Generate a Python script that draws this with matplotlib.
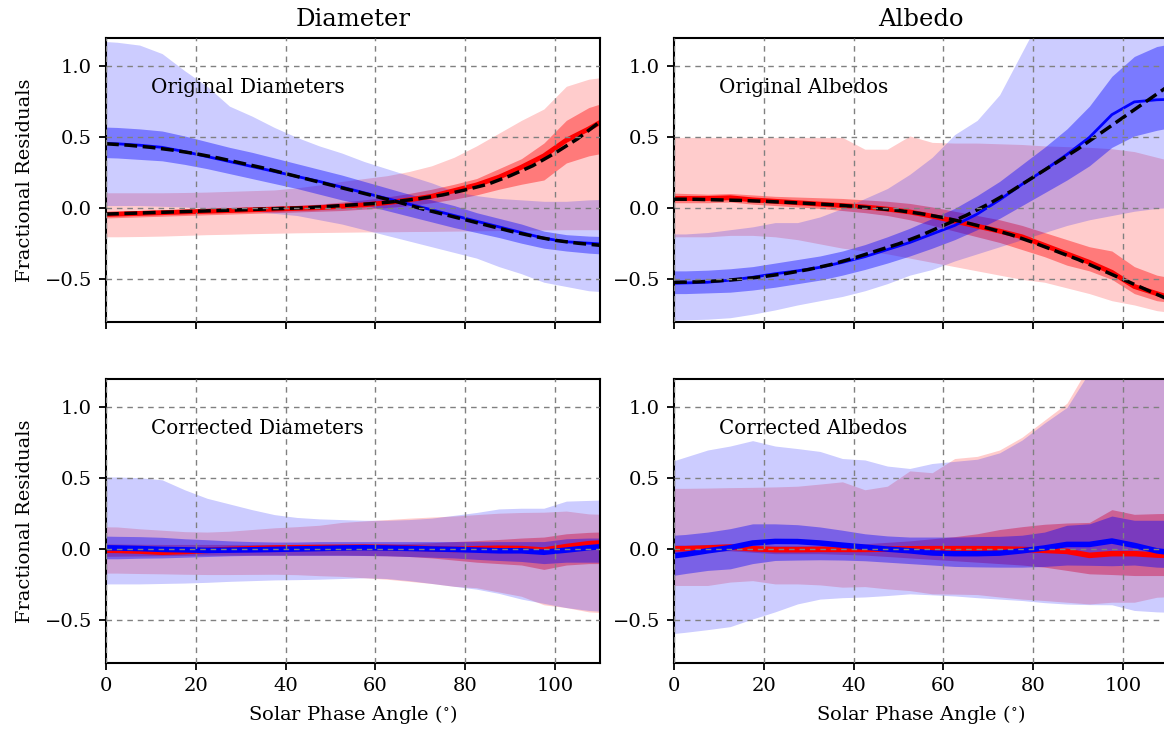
import matplotlib.pyplot as plt

plt.rcParams['font.family'] = 'DejaVu Serif'
plt.rcParams['mathtext.fontset'] = 'dejavuserif'

# phase angle bin centres (deg) for the binned residuals
phase = [-2.5, 2.5, 7.5, 12.5, 17.5, 22.5, 27.5, 32.5, 37.5, 42.5, 47.5, 52.5,
         57.5, 62.5, 67.5, 72.5, 77.5, 82.5, 87.5, 92.5, 97.5, 102.5, 107.5, 112.5]
# phase angles for the fitted correction curves
fit_phase = [0, 5, 10, 15, 20, 25, 30, 35, 40, 45, 50, 55, 60, 65, 70, 75, 80,
             85, 90, 95, 100, 105, 110]

# ---- original diameters ----
od_red_med = [-0.045, -0.04, -0.035, -0.03, -0.025, -0.02, -0.015, -0.01, -0.005, 0.0, 0.005, 0.015,
              0.025, 0.04, 0.06, 0.085, 0.125, 0.165, 0.22, 0.29, 0.37, 0.48, 0.56, 0.65]
od_red_in_hi = [-0.02, -0.02, -0.015, -0.01, -0.005, 0.0, 0.005, 0.01, 0.015, 0.02, 0.03, 0.045,
                0.06, 0.08, 0.105, 0.135, 0.17, 0.21, 0.28, 0.35, 0.46, 0.62, 0.71, 0.76]
od_red_in_lo = [-0.07, -0.065, -0.06, -0.055, -0.05, -0.045, -0.04, -0.035, -0.03, -0.025, -0.02, -0.015,
                -0.005, 0.005, 0.02, 0.04, 0.065, 0.095, 0.135, 0.17, 0.2, 0.32, 0.37, 0.4]
od_red_out_hi = [0.11, 0.11, 0.11, 0.11, 0.112, 0.115, 0.12, 0.125, 0.13, 0.145, 0.165, 0.19,
                 0.21, 0.23, 0.26, 0.3, 0.36, 0.44, 0.53, 0.62, 0.7, 0.86, 0.91, 0.93]
od_red_out_lo = [-0.2, -0.2, -0.198, -0.195, -0.19, -0.185, -0.182, -0.178, -0.175, -0.172, -0.17, -0.168,
                 -0.166, -0.165, -0.163, -0.162, -0.16, -0.158, -0.156, -0.154, -0.152, -0.15, -0.15, -0.15]
od_blue_med = [0.46, 0.455, 0.445, 0.43, 0.4, 0.365, 0.33, 0.295, 0.26, 0.225, 0.19, 0.15,
               0.11, 0.07, 0.03, -0.01, -0.05, -0.09, -0.13, -0.17, -0.21, -0.235, -0.245, -0.255]
od_blue_in_hi = [0.575, 0.57, 0.56, 0.545, 0.51, 0.47, 0.43, 0.395, 0.355, 0.315, 0.275, 0.235,
                 0.19, 0.145, 0.1, 0.06, 0.02, -0.03, -0.07, -0.11, -0.16, -0.185, -0.195, -0.2]
od_blue_in_lo = [0.36, 0.355, 0.345, 0.335, 0.31, 0.28, 0.245, 0.21, 0.175, 0.14, 0.1, 0.06,
                 0.025, -0.015, -0.055, -0.095, -0.135, -0.17, -0.205, -0.245, -0.28, -0.3, -0.315, -0.325]
od_blue_out_hi = [1.18, 1.17, 1.15, 1.09, 0.97, 0.86, 0.72, 0.65, 0.57, 0.5, 0.44, 0.39,
                  0.33, 0.28, 0.23, 0.18, 0.12, 0.09, 0.07, 0.06, 0.05, 0.05, 0.06, 0.065]
od_blue_out_lo = [0.02, 0.02, 0.02, 0.015, 0.01, 0.0, -0.01, -0.02, -0.035, -0.05, -0.08, -0.11,
                  -0.15, -0.19, -0.23, -0.27, -0.31, -0.35, -0.41, -0.46, -0.52, -0.55, -0.58, -0.59]
od_red_fit = [-0.04, -0.035, -0.03, -0.025, -0.02, -0.015, -0.01, -0.005, 0.0, 0.005, 0.015, 0.025,
              0.035, 0.05, 0.07, 0.095, 0.13, 0.17, 0.23, 0.3, 0.39, 0.49, 0.61]
od_blue_fit = [0.455, 0.445, 0.43, 0.41, 0.385, 0.355, 0.32, 0.285, 0.245, 0.205, 0.165, 0.125,
               0.085, 0.045, 0.0, -0.04, -0.08, -0.12, -0.16, -0.195, -0.225, -0.245, -0.26]

# ---- original albedos ----
oa_red_med = [0.07, 0.07, 0.07, 0.075, 0.06, 0.05, 0.04, 0.03, 0.02, 0.01, -0.005, -0.025,
              -0.055, -0.09, -0.125, -0.16, -0.2, -0.26, -0.32, -0.38, -0.45, -0.55, -0.6, -0.65]
oa_red_in_hi = [0.11, 0.105, 0.1, 0.105, 0.095, 0.085, 0.08, 0.075, 0.07, 0.06, 0.05, 0.035,
                0.01, -0.02, -0.05, -0.08, -0.12, -0.17, -0.22, -0.27, -0.3, -0.41, -0.47, -0.5]
oa_red_in_lo = [0.04, 0.04, 0.04, 0.045, 0.03, 0.02, 0.01, 0.0, -0.015, -0.03, -0.05, -0.08,
                -0.12, -0.16, -0.2, -0.24, -0.29, -0.34, -0.4, -0.44, -0.5, -0.6, -0.65, -0.67]
oa_red_out_hi = [0.5, 0.5, 0.5, 0.5, 0.5, 0.5, 0.5, 0.5, 0.5, 0.417, 0.417, 0.51,
                 0.465, 0.46, 0.46, 0.455, 0.45, 0.44, 0.435, 0.43, 0.42, 0.4, 0.36, 0.32]
oa_red_out_lo = [-0.2, -0.2, -0.2, -0.19, -0.19, -0.2, -0.22, -0.25, -0.28, -0.3, -0.32, -0.35,
                 -0.38, -0.41, -0.44, -0.47, -0.5, -0.52, -0.56, -0.6, -0.65, -0.68, -0.72, -0.74]
oa_blue_med = [-0.53, -0.525, -0.52, -0.505, -0.485, -0.46, -0.44, -0.415, -0.38, -0.34, -0.29, -0.24,
               -0.18, -0.12, -0.04, 0.06, 0.17, 0.27, 0.38, 0.5, 0.66, 0.75, 0.765, 0.77]
oa_blue_in_hi = [-0.44, -0.44, -0.435, -0.425, -0.41, -0.385, -0.36, -0.335, -0.3, -0.255, -0.2, -0.14,
                 -0.07, 0.0, 0.09, 0.19, 0.31, 0.43, 0.56, 0.72, 0.93, 1.07, 1.14, 1.17]
oa_blue_in_lo = [-0.6, -0.6, -0.595, -0.59, -0.575, -0.555, -0.53, -0.505, -0.47, -0.43, -0.385, -0.335,
                 -0.28, -0.22, -0.15, -0.07, 0.02, 0.11, 0.2, 0.3, 0.43, 0.51, 0.55, 0.58]
oa_blue_out_hi = [-0.18, -0.18, -0.17, -0.15, -0.13, -0.1, -0.1, -0.06, 0.0, 0.07, 0.14, 0.24,
                  0.36, 0.52, 0.62, 0.8, 1.1, 1.4, 1.6, 1.7, 1.8, 1.9, 2.0, 2.0]
oa_blue_out_lo = [-0.79, -0.785, -0.78, -0.77, -0.745, -0.715, -0.68, -0.65, -0.62, -0.58, -0.53, -0.47,
                  -0.43, -0.37, -0.32, -0.27, -0.22, -0.17, -0.12, -0.08, -0.05, -0.02, 0.0, 0.01]
oa_red_fit = [0.065, 0.064, 0.06, 0.056, 0.05, 0.043, 0.035, 0.026, 0.015, 0.0, -0.015, -0.037,
              -0.065, -0.1, -0.14, -0.185, -0.24, -0.3, -0.36, -0.43, -0.5, -0.57, -0.64]
oa_blue_fit = [-0.52, -0.518, -0.51, -0.498, -0.48, -0.458, -0.43, -0.395, -0.35, -0.3, -0.25, -0.19,
               -0.12, -0.05, 0.03, 0.12, 0.22, 0.32, 0.42, 0.53, 0.64, 0.75, 0.86]

# ---- corrected diameters ----
cd_red_med = [-0.005, -0.007, -0.012, -0.02, -0.015, -0.007, 0.0, 0.005, 0.01, 0.012, 0.014, 0.015,
              0.016, 0.014, 0.01, 0.005, 0.0, 0.005, 0.008, 0.006, -0.005, 0.02, 0.04, 0.05]
cd_red_in_hi = [0.04, 0.038, 0.036, 0.035, 0.035, 0.035, 0.035, 0.035, 0.035, 0.035, 0.035, 0.035,
                0.036, 0.038, 0.042, 0.047, 0.055, 0.062, 0.07, 0.08, 0.087, 0.11, 0.12, 0.125]
cd_red_in_lo = [-0.05, -0.048, -0.046, -0.044, -0.042, -0.04, -0.04, -0.04, -0.04, -0.04, -0.04, -0.04,
                -0.042, -0.045, -0.05, -0.06, -0.075, -0.09, -0.1, -0.11, -0.141, -0.11, -0.1, -0.1]
cd_red_out_hi = [0.16, 0.158, 0.145, 0.135, 0.125, 0.122, 0.128, 0.14, 0.152, 0.16, 0.17, 0.19,
                 0.2, 0.21, 0.22, 0.228, 0.235, 0.245, 0.255, 0.26, 0.262, 0.27, 0.25, 0.245]
cd_red_out_lo = [-0.167, -0.167, -0.17, -0.172, -0.175, -0.177, -0.177, -0.176, -0.175, -0.178, -0.185, -0.19,
                 -0.2, -0.21, -0.225, -0.24, -0.26, -0.27, -0.3, -0.33, -0.39, -0.41, -0.44, -0.45]
cd_blue_med = [0.012, 0.01, 0.006, 0.0, -0.003, -0.007, -0.005, -0.003, 0.0, 0.003, 0.006, 0.01,
               0.012, 0.01, 0.007, 0.003, 0.0, -0.005, -0.01, -0.01, -0.02, -0.005, 0.012, 0.025]
cd_blue_in_hi = [0.095, 0.092, 0.09, 0.085, 0.075, 0.068, 0.06, 0.055, 0.052, 0.052, 0.055, 0.055,
                 0.055, 0.055, 0.055, 0.055, 0.055, 0.055, 0.055, 0.055, 0.055, 0.075, 0.08, 0.08]
cd_blue_in_lo = [-0.066, -0.066, -0.062, -0.06, -0.055, -0.05, -0.045, -0.042, -0.042, -0.042, -0.042, -0.042,
                 -0.043, -0.045, -0.05, -0.055, -0.06, -0.07, -0.078, -0.085, -0.1, -0.09, -0.09, -0.09]
cd_blue_out_hi = [0.51, 0.51, 0.505, 0.49, 0.42, 0.36, 0.32, 0.28, 0.245, 0.225, 0.215, 0.21,
                  0.205, 0.205, 0.21, 0.22, 0.24, 0.26, 0.285, 0.29, 0.29, 0.34, 0.345, 0.35]
cd_blue_out_lo = [-0.243, -0.243, -0.243, -0.24, -0.237, -0.232, -0.225, -0.22, -0.215, -0.213, -0.21, -0.205,
                  -0.2, -0.205, -0.22, -0.24, -0.26, -0.28, -0.31, -0.35, -0.38, -0.41, -0.43, -0.44]

# ---- corrected albedos ----
ca_red_med = [0.005, 0.005, 0.01, 0.016, 0.005, -0.002, -0.002, 0.0, 0.0, 0.0, 0.002, 0.004,
              0.005, 0.005, 0.005, 0.004, 0.0, -0.007, -0.014, -0.042, -0.03, -0.03, -0.04, -0.045]
ca_red_in_hi = [0.03, 0.03, 0.035, 0.04, 0.035, 0.03, 0.03, 0.03, 0.035, 0.04, 0.05, 0.06,
                0.075, 0.09, 0.11, 0.14, 0.16, 0.177, 0.186, 0.19, 0.28, 0.247, 0.252, 0.255]
ca_red_in_lo = [-0.025, -0.02, -0.015, -0.01, -0.02, -0.03, -0.03, -0.03, -0.035, -0.04, -0.05, -0.06,
                -0.07, -0.08, -0.09, -0.1, -0.11, -0.125, -0.148, -0.172, -0.177, -0.184, -0.184, -0.185]
ca_red_out_hi = [0.43, 0.43, 0.432, 0.435, 0.437, 0.44, 0.445, 0.46, 0.476, 0.42, 0.445, 0.553,
                 0.54, 0.64, 0.655, 0.7, 0.79, 0.91, 1.03, 1.3, 1.45, 1.5, 1.5, 1.5]
ca_red_out_lo = [-0.254, -0.254, -0.254, -0.23, -0.22, -0.243, -0.243, -0.25, -0.266, -0.262, -0.278, -0.29,
                 -0.313, -0.315, -0.318, -0.335, -0.35, -0.36, -0.372, -0.384, -0.372, -0.372, -0.337, -0.33]
ca_blue_med = [-0.055, -0.035, -0.01, 0.012, 0.045, 0.056, 0.055, 0.045, 0.03, 0.016, 0.002, -0.01,
               -0.025, -0.03, -0.03, -0.026, -0.01, 0.01, 0.035, 0.035, 0.059, 0.028, -0.01, -0.03]
ca_blue_in_hi = [0.095, 0.105, 0.122, 0.146, 0.18, 0.18, 0.174, 0.158, 0.135, 0.11, 0.095, 0.087,
                 0.087, 0.087, 0.09, 0.092, 0.1, 0.122, 0.17, 0.18, 0.235, 0.205, 0.205, 0.205]
ca_blue_in_lo = [-0.195, -0.17, -0.148, -0.137, -0.1, -0.078, -0.075, -0.073, -0.075, -0.08, -0.09, -0.1,
                 -0.11, -0.12, -0.123, -0.125, -0.125, -0.12, -0.11, -0.112, -0.115, -0.11, -0.125, -0.13]
ca_blue_out_hi = [0.6, 0.65, 0.7, 0.728, 0.766, 0.728, 0.71, 0.69, 0.64, 0.63, 0.587, 0.57,
                  0.605, 0.62, 0.635, 0.68, 0.77, 0.89, 1.0, 1.25, 1.4, 1.5, 1.5, 1.5]
ca_blue_out_lo = [-0.6, -0.584, -0.565, -0.544, -0.49, -0.44, -0.384, -0.35, -0.34, -0.335, -0.325, -0.313,
                  -0.32, -0.328, -0.34, -0.35, -0.36, -0.375, -0.385, -0.389, -0.39, -0.43, -0.44, -0.445]

panels = [
    # (row, col, label, red bands, blue bands, red fit, blue fit)
    (0, 0, 'Original Diameters',
     (od_red_med, od_red_in_lo, od_red_in_hi, od_red_out_lo, od_red_out_hi),
     (od_blue_med, od_blue_in_lo, od_blue_in_hi, od_blue_out_lo, od_blue_out_hi),
     od_red_fit, od_blue_fit),
    (0, 1, 'Original Albedos',
     (oa_red_med, oa_red_in_lo, oa_red_in_hi, oa_red_out_lo, oa_red_out_hi),
     (oa_blue_med, oa_blue_in_lo, oa_blue_in_hi, oa_blue_out_lo, oa_blue_out_hi),
     oa_red_fit, oa_blue_fit),
    (1, 0, 'Corrected Diameters',
     (cd_red_med, cd_red_in_lo, cd_red_in_hi, cd_red_out_lo, cd_red_out_hi),
     (cd_blue_med, cd_blue_in_lo, cd_blue_in_hi, cd_blue_out_lo, cd_blue_out_hi),
     None, None),
    (1, 1, 'Corrected Albedos',
     (ca_red_med, ca_red_in_lo, ca_red_in_hi, ca_red_out_lo, ca_red_out_hi),
     (ca_blue_med, ca_blue_in_lo, ca_blue_in_hi, ca_blue_out_lo, ca_blue_out_hi),
     None, None),
]

fig = plt.figure(figsize=(11.64, 7.36), dpi=100)
lefts = [106 / 1164, 674 / 1164]
bottoms = [1 - 322 / 736, 1 - 663 / 736]
w = 494 / 1164
h = 284 / 736

for row, col, label, red, blue, red_fit, blue_fit in panels:
    ax = fig.add_axes([lefts[col], bottoms[row], w, h])
    top = row == 0

    r_med, r_in_lo, r_in_hi, r_out_lo, r_out_hi = red
    b_med, b_in_lo, b_in_hi, b_out_lo, b_out_hi = blue
    ax.fill_between(phase, r_out_lo, r_out_hi, color='red', alpha=0.2, lw=0)
    ax.fill_between(phase, r_in_lo, r_in_hi, color='red', alpha=0.4, lw=0)
    ax.fill_between(phase, b_out_lo, b_out_hi, color='blue', alpha=0.2, lw=0)
    ax.fill_between(phase, b_in_lo, b_in_hi, color='blue', alpha=0.4, lw=0)
    ax.plot(phase, r_med, color='red', lw=3.5 if top else 4)
    ax.plot(phase, b_med, color='blue', lw=2 if top else 4)
    if red_fit is not None:
        ax.plot(fit_phase, red_fit, color='black', ls='--', lw=2.5)
        ax.plot(fit_phase, blue_fit, color='black', ls='--', lw=2.5)

    ax.text(10, 0.85, label, fontsize=14.3, va='center')

    ax.set_xlim(0, 110)
    ax.set_ylim(-0.8, 1.2)
    ax.set_xticks([0, 20, 40, 60, 80, 100])
    ax.set_yticks([-0.5, 0.0, 0.5, 1.0])
    ax.grid(True, color='gray', ls=(0, (4, 3.5)), lw=1)
    ax.set_axisbelow(False)
    ax.tick_params(direction='out', length=5, width=1.3, labelsize=14, pad=5)
    for s in ax.spines.values():
        s.set_linewidth(1.5)

    if top:
        ax.tick_params(labelbottom=False)
        ax.set_title('Diameter' if col == 0 else 'Albedo', fontsize=17.5, pad=9)
    else:
        ax.set_xlabel('Solar Phase Angle ($^{\\circ}$)', fontsize=14, labelpad=6)
    if col == 0:
        ax.set_ylabel('Fractional Residuals', fontsize=14, labelpad=8)

fig.savefig('out.png', dpi=100)
